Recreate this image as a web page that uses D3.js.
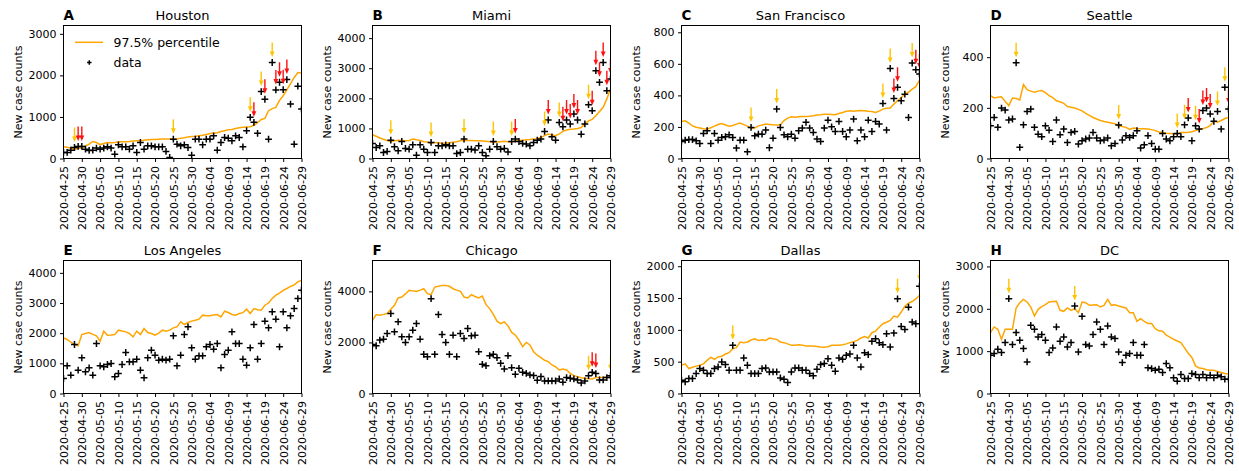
<!DOCTYPE html>
<html><head><meta charset="utf-8">
<script src="https://cdn.jsdelivr.net/npm/d3@7"></script>
<style>body{margin:0;background:#fff}svg{display:block;font-family:"DejaVu Sans",sans-serif}</style>
</head><body><svg id="c" width="1239" height="471"></svg>
<script>
const tickLabels = ["2020-04-25","2020-04-30","2020-05-05","2020-05-10","2020-05-15","2020-05-20","2020-05-25","2020-05-30","2020-06-04","2020-06-09","2020-06-14","2020-06-19","2020-06-24","2020-06-29"];
const nDays = 66;

const houstonData = [145,145,200,265,290,290,225,195,200,250,225,250,280,250,105,330,280,280,225,305,145,385,225,305,305,280,280,280,170,25,465,345,305,330,265,80,465,465,330,465,465,545,200,385,505,490,425,545,505,280,670,990,870,605,1610,1425,465,2310,1650,1835,1655,1900,1310,345,1740,1190];
const houstonPct = [280,270,245,225,240,260,300,345,410,385,335,360,385,380,385,395,405,405,410,420,425,430,440,450,455,460,465,470,470,470,455,470,490,500,520,530,535,545,560,580,600,610,620,650,670,690,700,720,740,750,760,765,800,860,940,965,1150,1200,1230,1400,1510,1650,1800,1950,2070,2060];
const houstonYellow = [3,30,51,54,57];
const houstonRed = [4,5,52,55,58,59,60,61];

const miamiData = [500,365,420,200,235,610,390,255,565,335,310,455,110,455,310,200,535,200,420,420,455,420,420,165,200,645,310,310,280,420,200,90,310,565,390,310,335,220,565,645,565,500,480,420,535,610,645,900,1280,720,610,1200,1055,1280,1145,1480,1280,810,1150,1790,1590,2920,2530,3190,2255,2645];
const miamiPct = [790,740,680,640,600,565,590,610,600,590,600,645,620,600,560,550,500,535,520,510,510,520,540,560,590,610,600,600,590,590,580,570,560,540,545,560,570,560,545,590,600,610,620,630,645,660,700,760,810,780,760,820,900,945,970,980,1000,1030,1150,1250,1300,1420,1560,1700,1980,2310];
const miamiYellow = [5,16,25,33,38,47,51,59];
const miamiRed = [39,48,52,53,54,55,56,60,61,62,63,64,65];

const sfData = [108,116,120,120,112,95,159,176,95,159,116,133,138,150,133,66,116,116,42,197,144,154,154,180,68,129,313,197,150,138,154,129,176,193,229,193,165,123,108,193,243,201,171,235,171,138,180,250,112,180,138,243,171,235,218,349,180,571,381,451,366,408,260,605,563,535];
const sfPct = [235,239,225,207,198,193,188,185,195,205,215,222,212,205,209,218,225,215,205,192,193,207,212,218,216,214,213,212,240,256,265,262,265,266,266,268,271,275,277,280,281,279,277,285,292,300,303,300,303,305,303,300,298,292,300,313,318,320,345,366,385,410,420,440,455,497];
const sfYellow = [19,26,55,57,63];
const sfRed = [58,59,64,65];

const seattleData = [129,162,123,199,191,152,156,378,44,133,186,195,123,96,86,129,112,67,152,94,116,63,103,107,57,70,77,81,103,81,70,73,81,50,59,132,73,90,83,90,110,41,54,90,59,37,37,99,77,70,86,99,86,133,160,70,129,116,189,199,176,147,186,116,281,195];
const seattlePct = [248,239,242,244,225,209,239,237,231,292,272,266,262,266,268,260,248,240,228,224,218,205,202,199,194,188,178,170,162,156,150,146,143,140,137,129,126,123,115,120,118,117,117,116,114,110,105,103,100,99,99,96,103,103,104,106,110,114,118,122,130,148,143,150,158,162];
const seattleYellow = [7,35,51,53,56,62,64];
const seattleRed = [54,57,58,59,60,65];

const laData = [497,917,608,1624,773,1182,718,851,608,1657,917,884,961,994,552,663,961,1359,1050,1050,1138,773,519,1182,1436,1271,1105,1138,1105,1138,1912,917,1271,1956,2210,1514,1138,1249,1249,1547,1624,1470,1657,851,1293,1436,2044,1657,1657,1138,939,1514,2287,1138,1657,2398,2177,2707,2464,1547,2707,2177,2575,2818,3149,3425];
const laPct = [1845,1790,1700,1624,1580,1956,1990,2022,1960,1912,1735,2066,1934,1940,1956,2099,2070,2044,1990,1878,2066,1956,2155,2022,1990,1934,2000,2099,2066,2100,2177,2210,2376,2287,2354,2400,2431,2464,2597,2575,2580,2600,2619,2541,2729,2685,2620,2597,2652,2680,2796,2652,2818,2780,2762,2928,3000,3150,3260,3330,3420,3481,3550,3600,3702,3757];
const laYellow = [];
const laRed = [];

const chicagoData = [1923,1870,2091,2130,2351,3131,2416,2806,2221,2000,2221,2481,2741,2130,1533,1442,3715,1533,3092,2312,2000,1533,2286,1442,2351,2156,2546,2260,2286,1637,1143,1091,1481,1533,1403,1182,961,1481,1013,753,987,831,792,727,701,520,662,494,494,494,494,572,442,623,598,572,533,416,494,700,831,779,533,533,623,700];
const chicagoPct = [2870,3092,3066,3100,3131,3300,3455,3741,3780,3900,4040,4020,4001,4050,4105,3910,3871,4170,4200,4235,4235,4200,4105,4050,4001,3780,3741,3871,3800,3741,3819,3481,3326,3100,2832,2741,2806,2650,2400,2286,2091,1832,2000,1900,1637,1500,1403,1300,1247,1117,1050,922,961,920,792,700,662,620,598,580,572,623,623,623,640,640];
const chicagoYellow = [59,65];
const chicagoRed = [60,61];

const dallasData = [209,183,235,235,313,392,365,313,313,392,418,496,454,365,757,365,365,559,444,313,313,313,392,402,339,339,339,245,224,172,339,402,402,365,365,313,277,381,454,470,548,444,350,559,538,600,621,757,559,418,642,611,820,861,799,767,940,731,950,1488,1054,1007,1357,1122,1096,1686];
const dallasPct = [444,465,392,412,430,444,465,520,569,538,575,585,620,642,705,720,809,799,809,840,861,835,846,835,872,860,851,810,799,780,757,760,767,760,746,746,746,740,730,726,735,757,757,757,767,780,799,815,835,872,895,872,955,980,1040,1096,1120,1148,1216,1200,1280,1370,1420,1446,1488,1540];
const dallasYellow = [14,59,65];
const dallasRed = [];

const dcData = [903,943,1045,966,1202,2239,1155,1438,1257,1061,746,1610,1516,1335,1390,1257,966,1076,1571,1233,1335,1100,1202,2066,982,1822,1155,1123,1390,1689,1516,1155,1595,1335,1296,982,731,903,943,1202,903,903,1155,605,589,550,573,495,707,605,369,291,448,353,353,471,448,369,448,369,432,369,432,393,338,338];
const dcPct = [1438,1571,1516,1280,1516,1516,1516,2019,2145,2223,2160,2042,1830,1987,2050,2097,2160,2170,2176,1964,1940,2019,1964,2003,1909,2160,2145,2082,2090,2097,2042,2082,2223,2082,2097,2066,2040,2019,1909,1909,1705,1767,1700,1650,1650,1532,1480,1469,1375,1330,1280,1240,1202,1076,950,850,652,600,589,560,550,550,520,495,471,463];
const dcYellow = [5,23];
const dcRed = [];

const panels = [
  {letter:"A", title:"Houston", data:houstonData, pct:houstonPct, yellow:houstonYellow, red:houstonRed, yMax:3200, yTicks:[0,1000,2000,3000]},
  {letter:"B", title:"Miami", data:miamiData, pct:miamiPct, yellow:miamiYellow, red:miamiRed, yMax:4420, yTicks:[0,1000,2000,3000,4000]},
  {letter:"C", title:"San Francisco", data:sfData, pct:sfPct, yellow:sfYellow, red:sfRed, yMax:843, yTicks:[0,200,400,600,800]},
  {letter:"D", title:"Seattle", data:seattleData, pct:seattlePct, yellow:seattleYellow, red:seattleRed, yMax:525, yTicks:[0,200,400]},
  {letter:"E", title:"Los Angeles", data:laData, pct:laPct, yellow:laYellow, red:laRed, yMax:4410, yTicks:[0,1000,2000,3000,4000]},
  {letter:"F", title:"Chicago", data:chicagoData, pct:chicagoPct, yellow:chicagoYellow, red:chicagoRed, yMax:5210, yTicks:[0,2000,4000]},
  {letter:"G", title:"Dallas", data:dallasData, pct:dallasPct, yellow:dallasYellow, red:dallasRed, yMax:2090, yTicks:[0,500,1000,1500,2000]},
  {letter:"H", title:"DC", data:dcData, pct:dcPct, yellow:dcYellow, red:dcRed, yMax:3140, yTicks:[0,1000,2000,3000]}
];

const svg = d3.select("#c");
const colLeft = [63.5, 372.5, 681.5, 990.5], rowTop = [25.5, 260.5], pw = 238, ph = 133;
const ORANGE = "#ffa500", YELLOW = "#ffc400", RED = "#ff1010";
const plusPath = "M-3.4,0H3.4M0,-3.4V3.4";
const smallPlus = "M-2.2,0H2.2M0,-2.2V2.2";

panels.forEach((p, k) => {
  const left = colLeft[k % 4], top = rowTop[Math.floor(k / 4)];
  const g = svg.append("g").attr("transform", `translate(${left},${top})`);
  const x = d3.scaleLinear().domain([0, nDays - 1]).range([0, pw]);
  const y = d3.scaleLinear().domain([0, p.yMax]).range([ph, 0]);

  const cid = "clip" + k;
  g.append("clipPath").attr("id", cid).append("rect").attr("width", pw).attr("height", ph);
  const plot = g.append("g").attr("clip-path", `url(#${cid})`);

  plot.append("path").datum(p.pct)
    .attr("fill", "none").attr("stroke", ORANGE).attr("stroke-width", 1.5)
    .attr("d", d3.line().x((d, i) => x(i)).y(d => y(d)));

  plot.selectAll("path.pt").data(p.data).join("path").attr("class", "pt")
    .attr("transform", (d, i) => `translate(${x(i)},${y(d)})`)
    .attr("d", plusPath).attr("stroke", "#000").attr("stroke-width", 1.5).attr("fill", "none");

  const arrows = p.yellow.map(i => ({i, c: YELLOW})).concat(p.red.map(i => ({i, c: RED})));
  arrows.forEach(a => {
    const ax = x(a.i), ay = y(p.data[a.i]);
    plot.append("line").attr("x1", ax).attr("x2", ax).attr("y1", ay - 20).attr("y2", ay - 10)
      .attr("stroke", a.c).attr("stroke-width", 1.4);
    plot.append("path").attr("d", `M${ax - 2.4},${ay - 11}L${ax + 2.4},${ay - 11}L${ax},${ay - 5.5}Z`).attr("fill", a.c);
  });

  // frame
  g.append("rect").attr("width", pw).attr("height", ph).attr("fill", "none").attr("stroke", "#000").attr("stroke-width", 1);

  // y axis
  const ya = g.append("g").call(d3.axisLeft(y).tickValues(p.yTicks).tickSize(3.5).tickPadding(3.5).tickFormat(d3.format("d")));
  ya.select(".domain").remove();
  ya.selectAll("text").attr("font-size", 11).attr("font-family", "DejaVu Sans").attr("fill", "#000");
  ya.selectAll("line").attr("stroke", "#000");

  // x axis
  const xa = g.append("g").attr("transform", `translate(0,${ph})`)
    .call(d3.axisBottom(x).tickValues(d3.range(0, nDays, 5)).tickSize(3.5).tickFormat((d, i) => tickLabels[i]));
  xa.select(".domain").remove();
  xa.selectAll("line").attr("stroke", "#000");
  xa.selectAll("text").attr("font-size", 11).attr("font-family", "DejaVu Sans").attr("fill", "#000")
    .attr("transform", "rotate(-90)").attr("x", -7.5).attr("y", 0).attr("dy", "0.35em").attr("text-anchor", "end");

  // y label
  g.append("text").attr("transform", `translate(${-45},${ph / 2}) rotate(-90)`)
    .attr("text-anchor", "middle").attr("dy", "0.35em").attr("font-size", 11).text("New case counts");

  // title and letter
  g.append("text").attr("x", pw / 2).attr("y", -5.5).attr("text-anchor", "middle").attr("font-size", 13).text(p.title);
  g.append("text").attr("x", 0).attr("y", -5.5).attr("font-size", 13.5).attr("font-weight", "bold").text(p.letter);

  if (k === 0) {
    const lg = g.append("g");
    lg.append("line").attr("x1", 11.5).attr("x2", 39.5).attr("y1", 16.8).attr("y2", 16.8).attr("stroke", ORANGE).attr("stroke-width", 1.5);
    lg.append("text").attr("x", 50).attr("y", 16.8).attr("dy", "0.35em").attr("font-size", 12.5).text("97.5% percentile");
    lg.append("path").attr("d", smallPlus).attr("transform", "translate(25.8,37)").attr("stroke", "#000").attr("stroke-width", 1.5);
    lg.append("text").attr("x", 50).attr("y", 37).attr("dy", "0.35em").attr("font-size", 12.5).text("data");
  }
});
</script></body></html>
